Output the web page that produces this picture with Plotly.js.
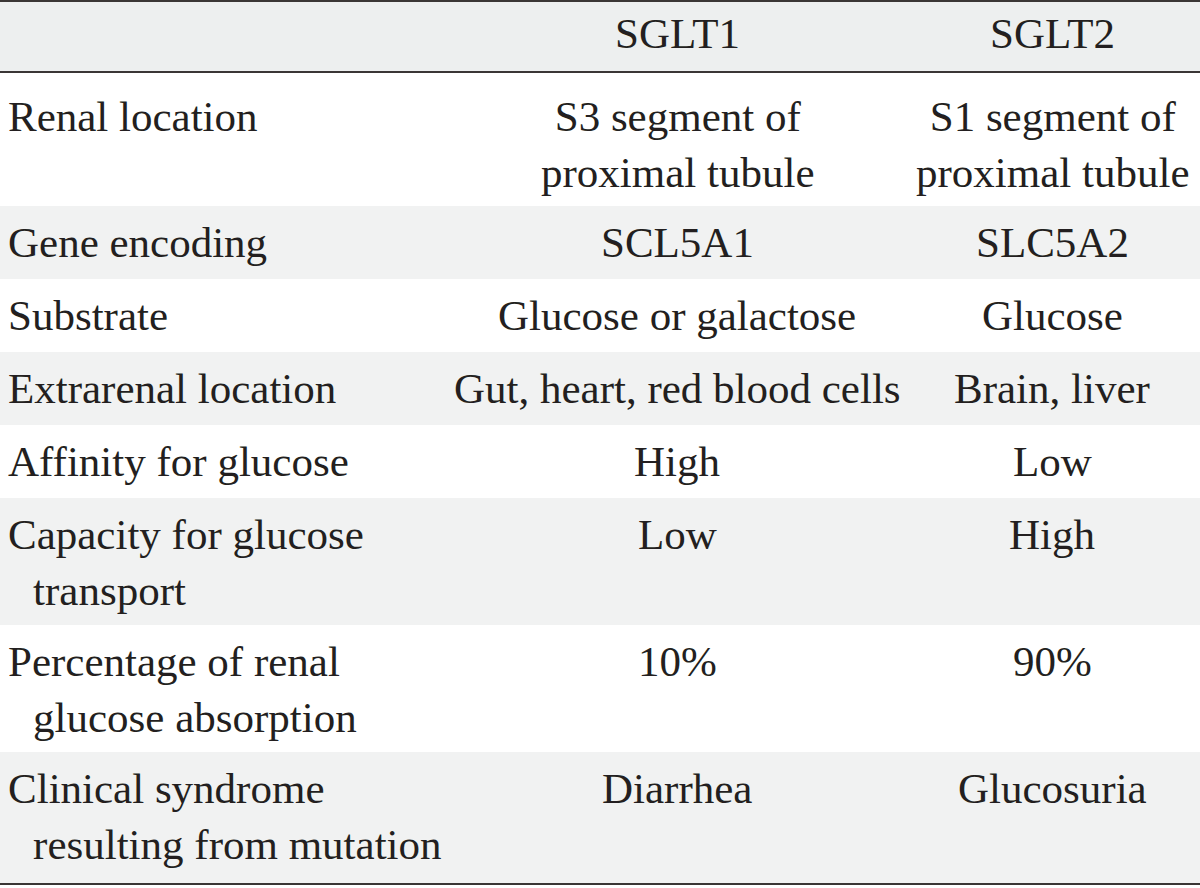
<!DOCTYPE html>
<html>
<head>
<meta charset="utf-8">
<script src="https://cdn.plot.ly/plotly-3.0.1.min.js"></script>
<style>html,body{margin:0;padding:0;background:#fff;}#chart{width:1200px;height:888px;}</style>
</head>
<body>
<div id="chart"></div>
<script>
// ---- data ----
var headers = ["", "SGLT1", "SGLT2"];
var features = [
  "Renal location",
  "Gene encoding",
  "Substrate",
  "Extrarenal location",
  "Affinity for glucose",
  "Capacity for glucose<br>\u00a0\u00a0\u200atransport",
  "Percentage of renal<br>\u00a0\u00a0\u200aglucose absorption",
  "Clinical syndrome<br>\u00a0\u00a0\u200aresulting from mutation"
];
var sglt1 = [
  "S3 segment of<br>proximal tubule",
  "SCL5A1",
  "Glucose or galactose",
  "Gut, heart, red blood cells",
  "High",
  "Low",
  "10%",
  "Diarrhea"
];
var sglt2 = [
  "S1 segment of<br>proximal tubule",
  "SLC5A2",
  "Glucose",
  "Brain, liver",
  "Low",
  "High",
  "90%",
  "Glucosuria"
];

// ---- layout / style ----
var headerTop = 1, headerHeight = 71;
var rowHeights = [134, 73, 73, 73, 73, 127, 127, 132];
var rowTextOffsets = [20, 12, 12, 12, 12, 12, 12, 12];
var colAnchors = [7, 677, 1052];
var colAlign = ["left", "center", "center"];
var headerOffset = 8;
var textColor = "#231f20";
var bandColor = "#f1f2f2";
var headColor = "#edefef";
var ruleColor = "#3a3635";
var fontFamily = "Liberation Serif, Times New Roman, serif";
var fontSize = 43;

function buildLayout() {
  var shapes = [];
  var annotations = [];
  var columns = [features, sglt1, sglt2];
  var fnt = {family: fontFamily, size: fontSize, color: textColor};

  shapes.push({type: "rect", xref: "x", yref: "y", x0: 0, x1: 1200,
    y0: headerTop, y1: headerTop + headerHeight, fillcolor: headColor, line: {width: 0}, layer: "below"});
  headers.forEach(function(h, c) {
    if (!h) return;
    annotations.push({xref: "x", yref: "y", x: colAnchors[c], y: headerTop + headerOffset,
      xanchor: colAlign[c], yanchor: "top", align: colAlign[c], text: h, showarrow: false,
      borderpad: 0, font: fnt});
  });

  var rowTop = headerTop + headerHeight;
  rowHeights.forEach(function(hgt, r) {
    if (r % 2 === 1) {
      shapes.push({type: "rect", xref: "x", yref: "y", x0: 0, x1: 1200,
        y0: rowTop, y1: rowTop + hgt, fillcolor: bandColor, line: {width: 0}, layer: "below"});
    }
    columns.forEach(function(col, c) {
      annotations.push({xref: "x", yref: "y", x: colAnchors[c], y: rowTop + rowTextOffsets[r],
        xanchor: colAlign[c], yanchor: "top", align: colAlign[c], text: col[r], showarrow: false,
        borderpad: 0, font: fnt});
    });
    rowTop += hgt;
  });

  [headerTop, headerTop + headerHeight, rowTop].forEach(function(yv) {
    shapes.push({type: "line", xref: "x", yref: "y", x0: 0, x1: 1200, y0: yv, y1: yv,
      line: {color: ruleColor, width: 2}});
  });

  return {
    width: 1200,
    height: 888,
    margin: {l: 0, r: 0, t: 0, b: 0},
    paper_bgcolor: "#ffffff",
    plot_bgcolor: "#ffffff",
    showlegend: false,
    xaxis: {range: [0, 1200], visible: false, fixedrange: true},
    yaxis: {range: [888, 0], visible: false, fixedrange: true},
    shapes: shapes,
    annotations: annotations
  };
}

Plotly.newPlot("chart", [], buildLayout(), {displayModeBar: false, staticPlot: true});
</script>
</body>
</html>
